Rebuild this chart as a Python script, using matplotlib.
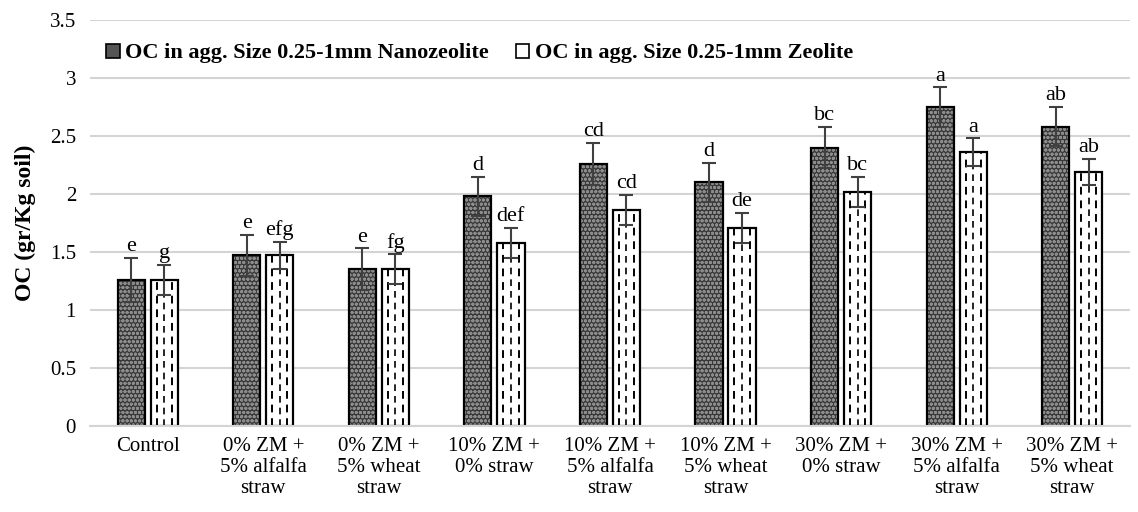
import matplotlib
matplotlib.use("Agg")
import matplotlib.pyplot as plt
import matplotlib.patches as mpatches
import numpy as np

plt.rcParams['font.family'] = ['Liberation Serif', 'DejaVu Serif']
plt.rcParams['hatch.linewidth'] = 1.0

categories = ["Control", "0% ZM +\n5% alfalfa\nstraw", "0% ZM +\n5% wheat\nstraw",
              "10% ZM +\n0% straw", "10% ZM +\n5% alfalfa\nstraw", "10% ZM +\n5% wheat\nstraw",
              "30% ZM +\n0% straw", "30% ZM +\n5% alfalfa\nstraw", "30% ZM +\n5% wheat\nstraw"]
nano = [1.26, 1.47, 1.35, 1.98, 2.26, 2.10, 2.40, 2.75, 2.58]
nano_err = [0.19, 0.18, 0.18, 0.17, 0.18, 0.17, 0.18, 0.17, 0.17]
nano_letters = ["e", "e", "e", "d", "cd", "d", "bc", "a", "ab"]
zeo = [1.26, 1.47, 1.35, 1.58, 1.86, 1.71, 2.02, 2.36, 2.19]
zeo_err = [0.13, 0.12, 0.13, 0.13, 0.13, 0.13, 0.13, 0.12, 0.11]
zeo_letters = ["g", "efg", "fg", "def", "cd", "de", "bc", "a", "ab"]
series_names = ["OC in agg. Size 0.25-1mm Nanozeolite", "OC in agg. Size 0.25-1mm Zeolite"]

fig = plt.figure(figsize=(11.38, 5.12), dpi=100)
ax = fig.add_axes([0.079, 0.168, 0.914, 0.793])

x = np.arange(len(categories))
w = 0.235
off = 0.143
# textured fill for nanozeolite bars
ax.bar(x - off, nano, w, facecolor='#383838', edgecolor='#8c8c8c', linewidth=0,
       hatch='oooo', zorder=2)
b1 = ax.bar(x - off, nano, w, facecolor='none', edgecolor='black', linewidth=1.6,
            zorder=2.2, label=series_names[0])
b2 = ax.bar(x + off, zeo, w, facecolor='white', edgecolor='black', linewidth=1.6,
            zorder=2, label=series_names[1])

# dashed vertical lines inside zeolite bars
for p in b2:
    x0 = p.get_x(); bw = p.get_width(); h = p.get_height()
    for frac, lw in [(0.22, 1.4), (0.5, 1.2), (0.78, 1.4)]:
        ax.plot([x0 + frac * bw] * 2, [0, h], color='black', lw=lw,
                linestyle=(0, (4, 3)), zorder=2.5)

ax.errorbar(x - off, nano, yerr=nano_err, fmt='none', ecolor='#404040', elinewidth=1.5,
            capsize=5, capthick=1.5, zorder=3)
ax.errorbar(x + off, zeo, yerr=zeo_err, fmt='none', ecolor='#404040', elinewidth=1.5,
            capsize=5, capthick=1.5, zorder=3)

for xi, v, e, t in zip(x - off, nano, nano_err, nano_letters):
    ax.text(xi, v + e + 0.015, t, ha='center', va='bottom', fontsize=16)
for xi, v, e, t in zip(x + off, zeo, zeo_err, zeo_letters):
    ax.text(xi, v + e + 0.015, t, ha='center', va='bottom', fontsize=16)

ax.set_xlim(-0.5, len(categories) - 0.5)
ax.set_ylim(0, 3.5)
ax.set_yticks([0, 0.5, 1, 1.5, 2, 2.5, 3, 3.5])
ax.set_yticklabels(["0", "0.5", "1", "1.5", "2", "2.5", "3", "3.5"], fontsize=15)
ax.set_xticks(x)
ax.set_xticklabels(categories, fontsize=15, linespacing=1.15)
ax.tick_params(axis='x', length=0, pad=8)
ax.tick_params(axis='y', length=0, pad=10)
ax.yaxis.grid(True, color='#d4d4d4', linewidth=1.5, zorder=0)
ax.set_axisbelow(True)
for s in ['top', 'right', 'left']:
    ax.spines[s].set_visible(False)
ax.spines['bottom'].set_color('#d4d4d4')
ax.spines['bottom'].set_linewidth(1.5)
ax.set_ylabel("OC (gr/Kg soil)", fontsize=17, fontweight='bold', labelpad=10)

h1 = mpatches.Patch(facecolor='#555555', edgecolor='black', linewidth=1.2)
h2 = mpatches.Patch(facecolor='white', edgecolor='black', linewidth=1.2)
leg = ax.legend(handles=[h1, h2], labels=series_names, loc='upper left',
                bbox_to_anchor=(0.003, 0.975), ncol=2,
                frameon=False, prop={'weight': 'bold', 'size': 16}, handlelength=0.6,
                handleheight=0.6, handletextpad=0.25, columnspacing=1.2, borderaxespad=0.2)

fig.savefig("out.png", dpi=100)
